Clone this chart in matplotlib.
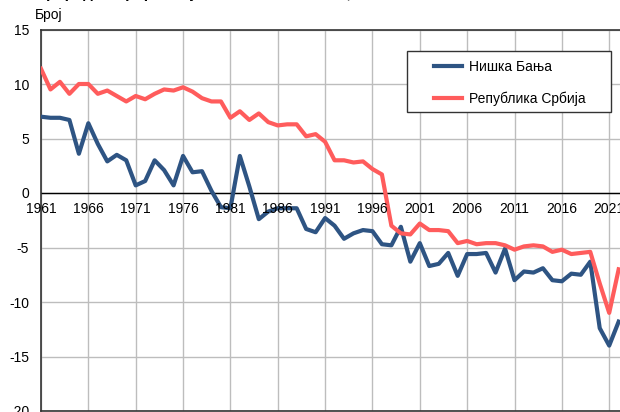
import numpy as np
import matplotlib
matplotlib.use('Agg')
import matplotlib.pyplot as plt
from matplotlib.patches import Rectangle

plt.rcParams['font.family'] = ['Liberation Sans', 'DejaVu Sans']

years = list(range(1961, 2023))

# Нишка Бања
niska_banja = [7.0, 6.9, 6.9, 6.7, 3.6, 6.4, 4.5, 2.9, 3.5, 3.0,
               0.7, 1.1, 3.0, 2.1, 0.7, 3.4, 1.9, 2.0, 0.2, -1.3,
               -1.4, 3.4, 0.6, -2.4, -1.7, -1.4, -1.4, -1.4, -3.3, -3.6,
               -2.3, -3.0, -4.2, -3.7, -3.4, -3.5, -4.7, -4.8, -3.1, -6.3,
               -4.6, -6.7, -6.5, -5.5, -7.6, -5.6, -5.6, -5.5, -7.3, -5.1,
               -8.0, -7.2, -7.3, -6.9, -8.0, -8.1, -7.4, -7.5, -6.3, -12.4,
               -14.0, -11.8]

# Република Србија
srbija = [11.4, 9.5, 10.2, 9.1, 10.0, 10.0, 9.1, 9.4, 8.9, 8.4,
          8.9, 8.6, 9.1, 9.5, 9.4, 9.7, 9.3, 8.7, 8.4, 8.4,
          6.9, 7.5, 6.7, 7.3, 6.5, 6.2, 6.3, 6.3, 5.2, 5.4,
          4.7, 3.0, 3.0, 2.8, 2.9, 2.2, 1.7, -3.0, -3.7, -3.8,
          -2.8, -3.4, -3.4, -3.5, -4.6, -4.4, -4.7, -4.6, -4.6, -4.8,
          -5.2, -4.9, -4.8, -4.9, -5.4, -5.2, -5.6, -5.5, -5.4, -8.3,
          -11.0, -7.0]

tick_years = list(range(1961, 2022, 5))
yticks = [15, 10, 5, 0, -5, -10, -15, -20]

blue = '#2E5483'
red = '#FF5C5C'

W, H = 620, 412
fig = plt.figure(figsize=(6.2, 4.12), dpi=100)
px_per_year = 9.47
xmax = 2022.2
ax = fig.add_axes([41 / W, 1 / H, (xmax - 1961) * px_per_year / W, 381.5 / H])

ax.set_xlim(1961, xmax)
ax.set_ylim(-20, 15)

ax.set_xticks(tick_years)
ax.set_xticklabels([])
ax.tick_params(axis='x', length=0)
ax.set_yticks(yticks)
ax.set_yticklabels([str(v) for v in yticks], fontsize=10)
ax.tick_params(axis='y', length=0, pad=8.5)

ax.grid(True, color='#BDBDBD', linewidth=1.0)
ax.set_axisbelow(True)
ax.axhline(0, color='black', linewidth=1.0, zorder=2)

for s in ['top', 'left', 'bottom']:
    ax.spines[s].set_color('#333333')
    ax.spines[s].set_linewidth(1.2)
ax.spines['right'].set_visible(False)

ax.plot(years, niska_banja, color=blue, linewidth=3.0, label='Нишка Бања', zorder=3)
ax.plot(years, srbija, color=red, linewidth=3.0, label='Република Србија', zorder=3)

# year labels sit just under the zero line
for yr in tick_years:
    ax.text(yr, -0.85, str(yr), ha='center', va='top', fontsize=10, zorder=4, clip_on=False)

# legend box drawn separately, entries placed inside it
box = Rectangle((407 / W, 1 - 112 / H), 204 / W, 61 / H, transform=fig.transFigure,
                facecolor='white', edgecolor='#333333', linewidth=1.0, zorder=5,
                clip_on=False)
ax.add_patch(box)
leg = ax.legend(loc='upper left', bbox_to_anchor=(434 / W, 1 - 60 / H),
                bbox_transform=fig.transFigure, fontsize=10, frameon=False,
                borderpad=0, labelspacing=1.25, handlelength=2.0,
                handletextpad=0.5, borderaxespad=0)
leg.set_zorder(6)

fig.text(35 / W, 1 - 15 / H, 'Број', fontsize=10, ha='left', va='center')
fig.text(35 / W, 1 + 6 / H, 'Природни прираштај на 1000 становника, 1961–2022',
         fontsize=11, fontweight='bold', ha='left', va='center')

fig.savefig('out.png', dpi=100)
